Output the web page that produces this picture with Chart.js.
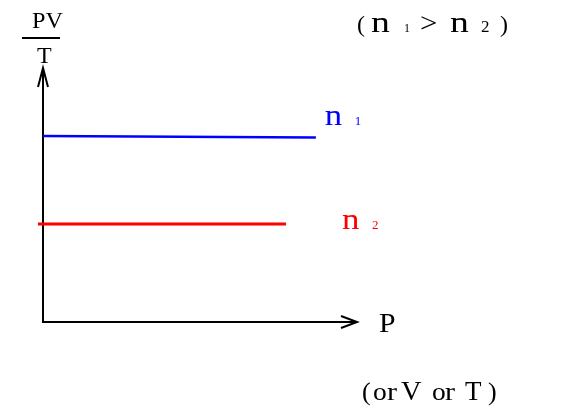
<!DOCTYPE html>
<html>
<head>
<meta charset="utf-8">
<script src="https://cdn.jsdelivr.net/npm/chart.js@4"></script>
<style>
  html, body { margin: 0; padding: 0; background: #fff; }
  canvas { display: block; }
</style>
</head>
<body>
<canvas id="chart" width="578" height="407"></canvas>
<script>
// where each line starts and stops along P, and its PV/T level
const n1X = [0, 8.69];
const n1Y = [7.32, 7.26];
const n2X = [-0.16, 7.74];
const n2Y = [3.86, 3.86];
const seriesNames = ["n", "n"];
const seriesSubs = ["1", "2"];
const seriesColors = ["#0000ff", "#ff0000"];

const SERIF = "'Liberation Serif', 'DejaVu Serif', serif";

function toPoints(xs, ys) {
  return xs.map((x, i) => ({ x: x, y: ys[i] }));
}

// draws a row of text pieces, each with its own size, offset and width stretch
function drawPieces(ctx, x0, baseline, pieces, color) {
  ctx.fillStyle = color;
  ctx.textAlign = "left";
  ctx.textBaseline = "alphabetic";
  pieces.forEach(([text, size, dx, sx]) => {
    ctx.save();
    ctx.font = size + "px " + SERIF;
    ctx.translate(x0 + dx, baseline);
    ctx.scale(sx || 1, 1);
    ctx.fillText(text, 0, 0);
    ctx.restore();
  });
}

const axesPlugin = {
  id: "axes",
  beforeDatasetsDraw(chart) {
    const { ctx, chartArea: a } = chart;
    ctx.save();
    ctx.strokeStyle = "#000";
    ctx.lineWidth = 2;
    ctx.beginPath();
    ctx.moveTo(a.left, a.bottom + 1);
    ctx.lineTo(a.left, a.top);
    ctx.moveTo(a.left + 1, a.bottom);
    ctx.lineTo(a.right, a.bottom);
    // open arrow heads
    ctx.moveTo(a.left - 5, a.top + 19);
    ctx.lineTo(a.left, a.top);
    ctx.lineTo(a.left + 5, a.top + 19);
    ctx.moveTo(a.right - 16, a.bottom - 6);
    ctx.lineTo(a.right, a.bottom);
    ctx.lineTo(a.right - 16, a.bottom + 6);
    ctx.stroke();
    ctx.restore();
  },
  afterDatasetsDraw(chart) {
    const { ctx, chartArea: a } = chart;
    ctx.save();

    // y axis title as a fraction PV / T
    drawPieces(ctx, a.left - 11, a.top - 40, [["PV", 23, 0, 1.05]], "#000");
    ctx.strokeStyle = "#000";
    ctx.lineWidth = 2;
    ctx.beginPath();
    ctx.moveTo(a.left - 21, a.top - 30);
    ctx.lineTo(a.left + 17, a.top - 30);
    ctx.stroke();
    drawPieces(ctx, a.left - 6, a.top - 5, [["T", 24, 0]], "#000");

    // x axis title
    drawPieces(ctx, a.right + 22, a.bottom + 10, [["P", 27, 0, 1.1]], "#000");
    drawPieces(ctx, a.right + 5, a.bottom + 78, [
      ["(", 26, 0], ["o", 25, 11, 1.1], ["r", 25, 25, 1.2], ["V", 27, 39, 1.05],
      ["o", 25, 70, 1.1], ["r", 25, 83, 1.2], ["T", 27, 103], [")", 26, 126]
    ], "#000");

    // top note
    drawPieces(ctx, a.right, 32, [
      ["(", 24, 0], ["n", 29, 14, 1.3], ["1", 12, 47], [">", 28, 63, 1.1],
      ["n", 29, 93, 1.3], ["2", 17, 124], [")", 24, 143]
    ], "#000");

    // line labels at the end of each line
    const offsets = [[9, -13], [56, 5]];
    chart.data.datasets.forEach((ds, i) => {
      const pts = chart.getDatasetMeta(i).data;
      const last = pts[pts.length - 1];
      drawPieces(ctx, last.x + offsets[i][0], last.y + offsets[i][1], [
        [seriesNames[i], 29, 0, 1.2], [seriesSubs[i], 13, 30]
      ], seriesColors[i]);
    });

    ctx.restore();
  }
};

const chart = new Chart(document.getElementById("chart").getContext("2d"), {
  type: "line",
  data: {
    datasets: [
      {
        label: "n1",
        data: toPoints(n1X, n1Y),
        borderColor: seriesColors[0],
        borderWidth: 2.5,
        pointRadius: 0,
        clip: false,
      },
      {
        label: "n2",
        data: toPoints(n2X, n2Y),
        borderColor: seriesColors[1],
        borderWidth: 3,
        pointRadius: 0,
        clip: false,
      },
    ],
  },
  options: {
    responsive: false,
    animation: false,
    layout: { padding: { left: 43, right: 221, top: 68, bottom: 85 } },
    plugins: { legend: { display: false }, tooltip: { enabled: false } },
    scales: {
      x: { type: "linear", min: 0, max: 10, display: false },
      y: { type: "linear", min: 0, max: 10, display: false },
    },
  },
  plugins: [axesPlugin],
});
</script>
</body>
</html>
